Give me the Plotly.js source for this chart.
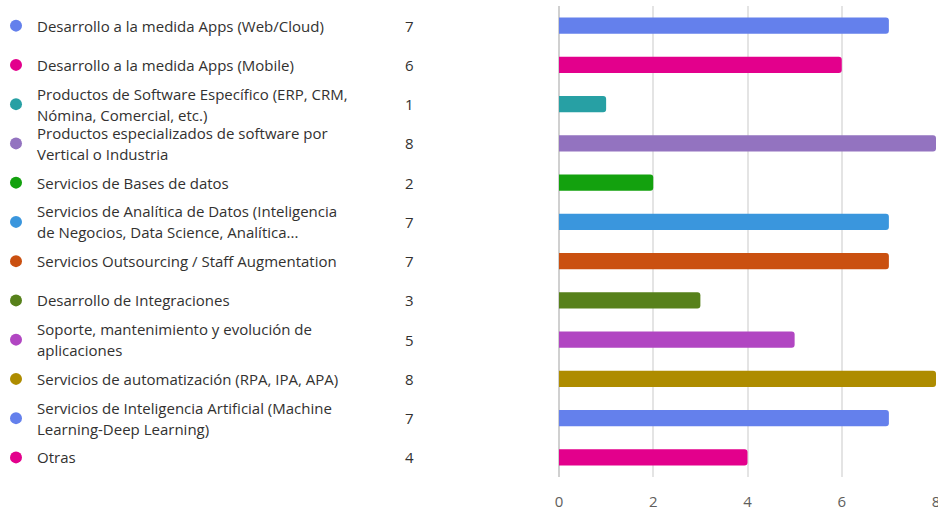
<!DOCTYPE html>
<html>
<head>
<meta charset="utf-8">
<script src="https://cdn.plot.ly/plotly-3.0.1.min.js"></script>
<style>html,body{margin:0;padding:0;background:#fff;}#chart{width:938px;height:510px;}</style>
</head>
<body>
<div id="chart"></div>
<script>
const categories = [
  "Desarrollo a la medida Apps (Web/Cloud)",
  "Desarrollo a la medida Apps (Mobile)",
  "Productos de Software Específico (ERP, CRM,<br>Nómina, Comercial, etc.)",
  "Productos especializados de software por<br>Vertical o Industria",
  "Servicios de Bases de datos",
  "Servicios de Analítica de Datos (Inteligencia<br>de Negocios, Data Science, Analítica...",
  "Servicios Outsourcing / Staff Augmentation",
  "Desarrollo de Integraciones",
  "Soporte, mantenimiento y evolución de<br>aplicaciones",
  "Servicios de automatización (RPA, IPA, APA)",
  "Servicios de Inteligencia Artificial (Machine<br>Learning-Deep Learning)",
  "Otras"
];
const counts = [7, 6, 1, 8, 2, 7, 7, 3, 5, 8, 7, 4];
const colors = ["#6480ec", "#e3008c", "#27a0a4", "#9373c0", "#13a10e", "#3a96dd",
                "#ca5010", "#57811b", "#b146c2", "#ae8c00", "#6480ec", "#e3008c"];
const xTicks = [0, 2, 4, 6, 8];

const FONT = "Open Sans, Noto Sans, sans-serif";

const bars = {
  type: "bar", orientation: "h",
  x: counts, y: categories,
  marker: {color: colors, cornerradius: 3, line: {width: 0}},
  hoverinfo: "x+y", showlegend: false
};
const dots = {
  type: "scatter", mode: "markers",
  x: categories.map(() => 16), y: categories,
  xaxis: "x2", yaxis: "y",
  marker: {color: colors, size: 12},
  hoverinfo: "skip", showlegend: false
};

const annotations = [];
categories.forEach((c, i) => {
  const lines = c.split("<br>");
  lines.forEach((ln, j) => {
    const shift = lines.length === 1 ? 0 : (j === 0 ? 10.5 : -10.5);
    annotations.push({xref: "x2", yref: "y", x: 35, y: c, text: ln, showarrow: false,
      xanchor: "left", yanchor: "middle", align: "left", yshift: shift,
      font: {family: FONT, size: 15, color: "#323130"}});
  });
  annotations.push({xref: "x2", yref: "y", x: 409, y: c, text: String(counts[i]), showarrow: false,
    xanchor: "center", yanchor: "middle",
    font: {family: FONT, size: 15, color: "#323130"}});
});

const layout = {
  width: 938, height: 510,
  margin: {l: 0, r: 2, t: 6, b: 33},
  paper_bgcolor: "#ffffff", plot_bgcolor: "#ffffff",
  bargap: 0.59,
  xaxis: {domain: [559/936, 1], range: [0, 8], tickvals: xTicks, ticktext: xTicks.map(String),
    showgrid: true, gridcolor: "#e4e4e4", gridwidth: 2, zeroline: true, zerolinecolor: "#d0d0d0", zerolinewidth: 2,
    showline: false, ticks: "", ticklabelstandoff: 14, ticklabeloverflow: "allow",
    tickfont: {family: FONT, size: 15, color: "#605e5c"}, fixedrange: true},
  xaxis2: {domain: [0, 0.59], range: [0, 552.24], visible: false, anchor: "y", fixedrange: true},
  yaxis: {range: [11.5, -0.5], type: "category", showticklabels: false, showgrid: false, zeroline: false, ticks: "", fixedrange: true},
  annotations: annotations,
  font: {family: FONT}
};

Plotly.newPlot("chart", [bars, dots], layout, {displayModeBar: false, staticPlot: true});
</script>
</body>
</html>
